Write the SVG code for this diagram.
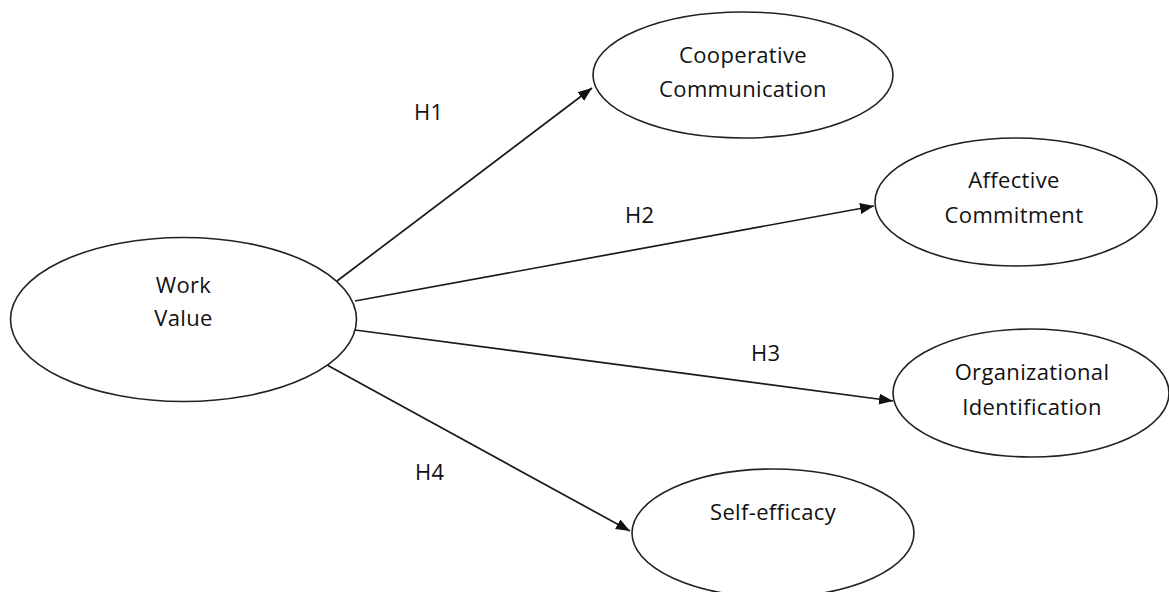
<svg xmlns="http://www.w3.org/2000/svg" width="1169" height="592" viewBox="0 0 1169 592">
<style>
.node ellipse{fill:#fff;stroke:#222;stroke-width:1.6}
text{font-family:"Open Sans","DejaVu Sans",sans-serif;font-size:22px;letter-spacing:0.35px;fill:#111;text-anchor:middle}
.lbl{text-anchor:start}
.conn line{stroke:#1a1a1a;stroke-width:1.7}
</style>
<defs>
<marker id="arr" markerUnits="userSpaceOnUse" markerWidth="15" markerHeight="12" refX="14" refY="5.5" orient="auto">
<path d="M0,0 L14,5.5 L0,11 z" fill="#111"/>
</marker>
</defs>
<rect width="1169" height="592" fill="#fff"/>
<g id="connectors" class="conn">
<line x1="337" y1="281" x2="592" y2="88" marker-end="url(#arr)"/>
<line x1="355" y1="301" x2="874" y2="206" marker-end="url(#arr)"/>
<line x1="355" y1="330" x2="893" y2="401" marker-end="url(#arr)"/>
<line x1="327" y1="365" x2="630" y2="531" marker-end="url(#arr)"/>
<text class="lbl" x="414" y="120">H1</text>
<text class="lbl" x="625" y="223">H2</text>
<text class="lbl" x="751" y="361">H3</text>
<text class="lbl" x="415" y="480">H4</text>
</g>
<g id="work-value" class="node">
<ellipse cx="183.5" cy="319.5" rx="173" ry="82"/>
<text x="183.5" y="293">Work</text>
<text x="183.5" y="326">Value</text>
</g>
<g id="cooperative-communication" class="node">
<ellipse cx="743" cy="75" rx="150" ry="63"/>
<text x="743" y="63">Cooperative</text>
<text x="743" y="97">Communication</text>
</g>
<g id="affective-commitment" class="node">
<ellipse cx="1016" cy="202" rx="141" ry="64"/>
<text x="1014" y="188">Affective</text>
<text x="1014" y="223">Commitment</text>
</g>
<g id="organizational-identification" class="node">
<ellipse cx="1031" cy="393" rx="138" ry="64"/>
<text x="1032" y="380">Organizational</text>
<text x="1032" y="415">Identification</text>
</g>
<g id="self-efficacy" class="node">
<ellipse cx="773" cy="533" rx="141" ry="64"/>
<text x="773" y="520">Self-efficacy</text>
</g>
</svg>
